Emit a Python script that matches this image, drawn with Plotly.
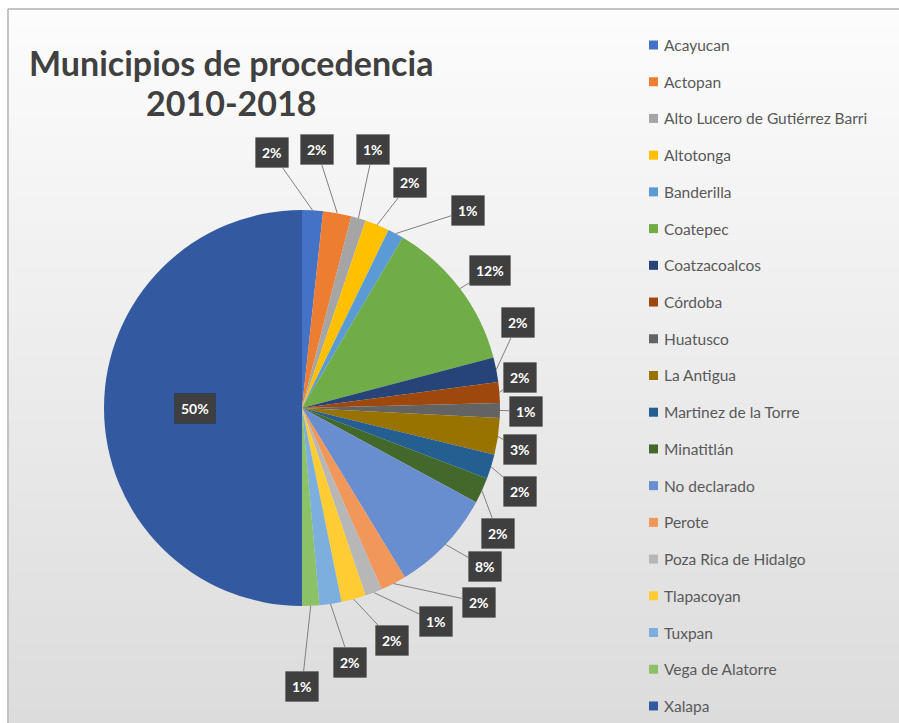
import math
import plotly.graph_objects as go

# Municipalities of origin, 2010-2018 (share of total, %)
municipios = [
    "Acayucan", "Actopan", "Alto Lucero de Gutiérrez Barri", "Altotonga",
    "Banderilla", "Coatepec", "Coatzacoalcos", "Córdoba", "Huatusco",
    "La Antigua", "Martinez de la Torre", "Minatitlán", "No declarado",
    "Perote", "Poza Rica de Hidalgo", "Tlapacoyan", "Tuxpan",
    "Vega de Alatorre", "Xalapa",
]
porcentaje = [1.7, 2.3, 1.2, 2.0, 1.3, 12.4, 2.0, 1.7, 1.2, 3.0,
              2.0, 2.1, 8.4, 2.1, 1.4, 2.0, 1.8, 1.4, 50.0]
colores = [
    "#4472C4", "#ED7D31", "#A5A5A5", "#FFC000", "#5B9BD5", "#70AD47",
    "#264478", "#9E480E", "#636363", "#997300", "#255E91", "#43682B",
    "#698ED0", "#F1975A", "#B7B7B7", "#FFCD33", "#7CAFDD", "#8CC168",
    "#335AA1",
]

# Callout placement: angle (deg, clockwise from 12 o'clock) and distance (px) from centre
callout_angle = [-6.7, 3.3, 15.4, 25.6, 40.0, 53.7, 68.5, 81.9, 90.8, 100.7,
                 111.0, 122.7, 131.0, 137.6, 148.0, 158.8, 169.3, 180.0, 270.0]
callout_dist = [257, 259, 268, 250, 258, 233, 232, 220, 224, 222,
                234, 233, 242, 263, 252, 249, 259, 278, 107]

W, H = 899, 723
CX, CY, R = 302, 408, 198
FONT = "Lato, 'Open Sans', sans-serif"


def px(x):
    return x / W


def py(y):
    return 1 - y / H


fig = go.Figure(go.Pie(
    labels=municipios,
    values=porcentaje,
    sort=False,
    direction="clockwise",
    rotation=0,
    marker=dict(colors=colores, line=dict(width=0)),
    textinfo="none",
    hoverinfo="label+percent",
    showlegend=False,
    domain=dict(x=[px(CX - R), px(CX + R)], y=[py(CY + R), py(CY - R)]),
))

shapes = []
# soft vertical gradient for the chart area
n_bands = 80
top, bottom = 9, H
c0, c1 = (252, 252, 252), (220, 220, 220)
for i in range(n_bands):
    t = i / (n_bands - 1)
    c = tuple(round(a + (b - a) * t) for a, b in zip(c0, c1))
    y0 = top + (bottom - top) * i / n_bands
    y1 = top + (bottom - top) * (i + 1) / n_bands + 0.6
    shapes.append(dict(type="rect", xref="paper", yref="paper", layer="below",
                       x0=px(8), x1=1, y0=py(y1), y1=py(y0),
                       fillcolor=f"rgb{c}", line=dict(width=0)))
# frame
shapes.append(dict(type="line", xref="paper", yref="paper", layer="below",
                   x0=px(8), x1=1, y0=py(9), y1=py(9),
                   line=dict(color="#c4c4c4", width=2)))
shapes.append(dict(type="line", xref="paper", yref="paper", layer="below",
                   x0=px(8), x1=px(8), y0=py(9), y1=0,
                   line=dict(color="#c4c4c4", width=2)))

annotations = []
total = sum(porcentaje)
cum = 0.0
for i, v in enumerate(porcentaje):
    mid = (cum + v / 2) / total
    cum += v
    theta = math.radians(mid * 360)
    ex, ey = CX + R * math.sin(theta), CY - R * math.cos(theta)
    a = math.radians(callout_angle[i])
    lx, ly = CX + callout_dist[i] * math.sin(a), CY - callout_dist[i] * math.cos(a)
    label = f"<b>{round(v / total * 100)}%</b>"
    box = dict(text=label, bgcolor="#3f3f3f", borderpad=6,
               bordercolor="rgba(0,0,0,0.15)", borderwidth=1,
               xanchor="center", yanchor="middle",
               font=dict(family=FONT, size=14, color="white"))
    if callout_dist[i] < R:
        annotations.append(dict(xref="paper", yref="paper", x=px(lx), y=py(ly),
                                showarrow=False, **box))
    else:
        annotations.append(dict(xref="paper", yref="paper", x=px(ex), y=py(ey),
                                ax=lx - ex, ay=ly - ey, showarrow=True,
                                arrowhead=0, arrowwidth=1, arrowcolor="#808080",
                                standoff=0, **box))

# title
for txt, yy in (("Municipios de procedencia", 62), ("2010-2018", 103)):
    annotations.append(dict(xref="paper", yref="paper", x=px(231), y=py(yy),
                            xanchor="center", yanchor="middle",
                            text=f"<b>{txt}</b>", showarrow=False,
                            font=dict(family=FONT, size=34, color="#404040")))

# legend
leg_top, leg_step = 45, 36.72
for i, (name, col) in enumerate(zip(municipios, colores)):
    yy = leg_top + i * leg_step
    shapes.append(dict(type="rect", xref="paper", yref="paper",
                       x0=px(649), x1=px(658), y0=py(yy + 4.5), y1=py(yy - 4.5),
                       fillcolor=col, line=dict(width=0)))
    annotations.append(dict(xref="paper", yref="paper", x=px(662), y=py(yy),
                            xanchor="left", yanchor="middle", text=name,
                            showarrow=False,
                            font=dict(family=FONT, size=15.5, color="#595959")))

fig.update_layout(
    width=W, height=H,
    margin=dict(l=0, r=0, t=0, b=0),
    paper_bgcolor="white",
    plot_bgcolor="white",
    shapes=shapes,
    annotations=annotations,
)

fig.write_html("out.html")
